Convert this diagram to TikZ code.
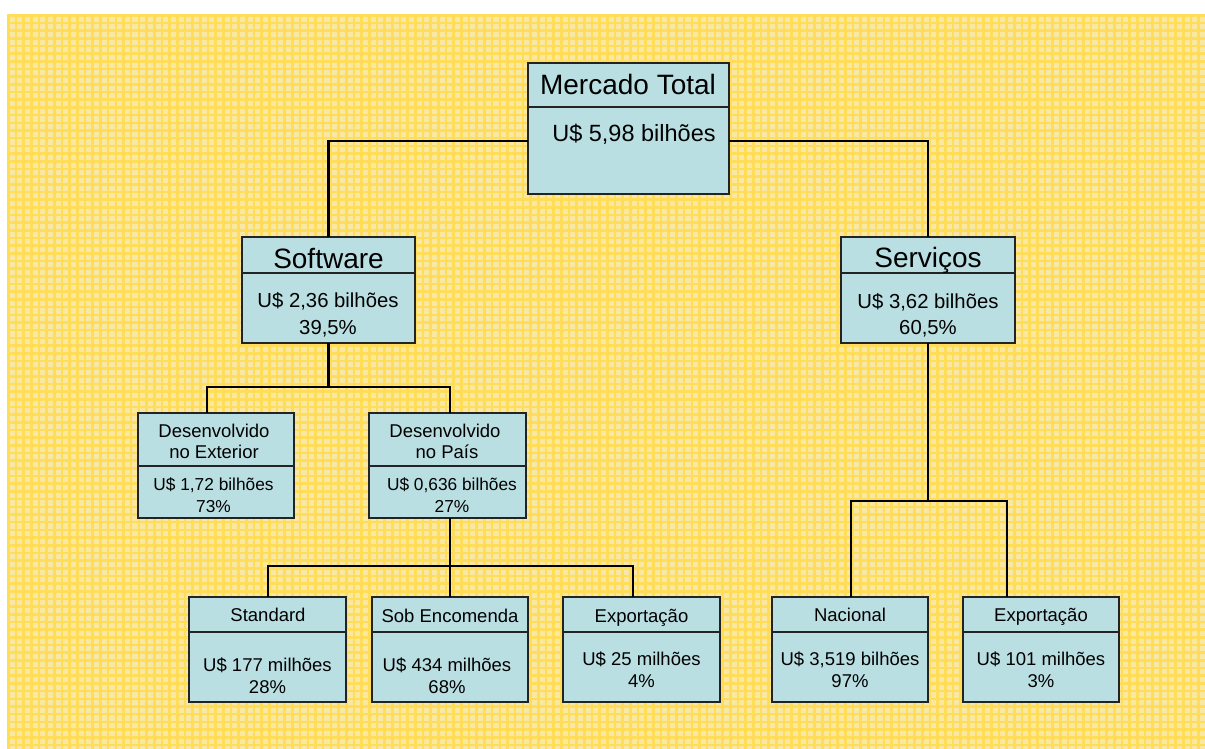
\documentclass[tikz,border=0pt]{standalone}
\usepackage{fontspec}
\setmainfont{Liberation Sans}
\definecolor{bgl}{RGB}{248,232,164}
\definecolor{bgd}{RGB}{255,221,88}
\definecolor{boxf}{RGB}{186,223,227}
\definecolor{boxd}{RGB}{35,35,35}
\begin{document}
\begin{tikzpicture}[x=1pt,y=-1pt,
  box/.style={draw=boxd,fill=boxf,line width=2pt,rectangle,inner sep=0pt,outer sep=0pt},
  divline/.style={draw=boxd,line width=1.6pt},
  conn/.style={draw=black,line width=2.4pt},
  tl/.style={anchor=base,inner sep=0pt,text=black},
  fA/.style={tl,font=\fontsize{28}{32}\selectfont},
  fB/.style={tl,font=\fontsize{23.5}{27}\selectfont},
  fC/.style={tl,font=\fontsize{20.3}{24}\selectfont},
  fD/.style={tl,font=\fontsize{18.5}{22}\selectfont},
  fE/.style={tl,font=\fontsize{17.3}{21}\selectfont}]
\useasboundingbox (0,0) rectangle (1205,749);
% background grid
\begin{scope}
\clip (7,14) rectangle (1205,749);
\fill[bgl] (7,14) rectangle (1205,749);
\foreach \i in {0,...,157} \draw[bgd,line width=2.6pt] ({8.3+7.68*\i},14) -- ({8.3+7.68*\i},749);
\foreach \j in {0,...,96} \draw[bgd,line width=2.6pt] (7,{15.3+7.68*\j}) -- (1205,{15.3+7.68*\j});
\end{scope}

% boxes
\node[box,minimum width=201pt,minimum height=131pt] (mt) at (628.5,128.5) {};
\node[box,minimum width=173pt,minimum height=106pt] (sw) at (328.5,290) {};
\node[box,minimum width=174pt,minimum height=106pt] (sv) at (928,290) {};
\node[box,minimum width=156pt,minimum height=105pt] (de) at (216,465.5) {};
\node[box,minimum width=157pt,minimum height=105pt] (dp) at (447.5,465.5) {};
\node[box,minimum width=157pt,minimum height=105pt] (st) at (267.5,649.5) {};
\node[box,minimum width=156pt,minimum height=105pt] (se) at (450,649.5) {};
\node[box,minimum width=157pt,minimum height=105pt] (ex) at (641.5,649.5) {};
\node[box,minimum width=156pt,minimum height=105pt] (na) at (850,649.5) {};
\node[box,minimum width=156pt,minimum height=105pt] (ex2) at (1041,649.5) {};

% dividers
\draw[divline] (mt.west |- 0,107) -- (mt.east |- 0,107);
\draw[divline] (sw.west |- 0,273) -- (sw.east |- 0,273);
\draw[divline] (sv.west |- 0,273) -- (sv.east |- 0,273);
\draw[divline] (de.west |- 0,466) -- (de.east |- 0,466);
\draw[divline] (dp.west |- 0,466) -- (dp.east |- 0,466);
\foreach \b in {st,se,ex,na,ex2} \draw[divline] (\b.west |- 0,632) -- (\b.east |- 0,632);

% connector points
\coordinate (mtL) at ([yshift=-12.5pt]mt.west);
\coordinate (mtR) at ([yshift=-12.5pt]mt.east);
\coordinate (bA) at (329,387);
\coordinate (bB) at (450,566);
\coordinate (bC) at (928,501);
\coordinate (deIn) at ([xshift=-9pt]de.north);
\coordinate (dpIn) at ([xshift=2.5pt]dp.north);
\coordinate (dpOut) at ([xshift=2.5pt]dp.south);
\coordinate (stIn) at ([xshift=0.5pt]st.north);
\coordinate (exIn) at ([xshift=-8.5pt]ex.north);
\coordinate (naIn) at ([xshift=1pt]na.north);
\coordinate (ex2In) at ([xshift=-34pt]ex2.north);

% connectors
\draw[conn] (mtL) -| (sw.north);
\draw[conn] (mtR) -| (sv.north);
\draw[conn] (sw.south) -- (sw.south |- bA);
\draw[conn] (deIn) |- (dpIn |- bA) -- (dpIn);
\draw[conn] (dpOut) -- (dpOut |- bB);
\draw[conn] (stIn) |- (exIn |- bB) -- (exIn);
\draw[conn] (se.north) -- (se.north |- bB);
\draw[conn] (sv.south) -- (sv.south |- bC);
\draw[conn] (naIn) |- (ex2In |- bC) -- (ex2In);

% texts
\node[fA] (mtT) at (628,95) {Mercado Total};
\node[fB] (mtV) at (634,141.5) {U\$ 5,98 bilhões};

\node[fA] (swT) at (328.5,268) {Software};
\node[fC] (swV) at (328,307) {U\$ 2,36 bilhões};
\node[fC] (swP) at (328,334) {39,5\%};

\node[fA] (svT) at (928,267) {Serviços};
\node[fC] (svV) at (928,308) {U\$ 3,62 bilhões};
\node[fC] (svP) at (928,334) {60,5\%};

\node[fD] (deT1) at (214,437.5) {Desenvolvido};
\node[fD] (deT2) at (214,458.5) {no Exterior};
\node[fE] (deV) at (213.5,490) {U\$ 1,72 bilhões};
\node[fE] (deP) at (213.5,512) {73\%};

\node[fD] (dpT1) at (445,437.5) {Desenvolvido};
\node[fD] (dpT2) at (447,458.5) {no País};
\node[fE] (dpV) at (452,490) {U\$ 0,636 bilhões};
\node[fE] (dpP) at (452,512) {27\%};

\node[fD] (stT) at (268,621.6) {Standard};
\node[fD] (stV) at (267.5,671.6) {U\$ 177 milhões};
\node[fD] (stP) at (267.5,693.6) {28\%};

\node[fD] (seT) at (450,622.6) {Sob Encomenda};
\node[fD] (seV) at (447,671.6) {U\$ 434 milhões};
\node[fD] (seP) at (447,693.6) {68\%};

\node[fD] (exT) at (641.5,622.6) {Exportação};
\node[fD] (exV) at (641.5,665.6) {U\$ 25 milhões};
\node[fD] (exP) at (641.5,687.6) {4\%};

\node[fD] (naT) at (850,621.6) {Nacional};
\node[fD] (naV) at (850,665.6) {U\$ 3,519 bilhões};
\node[fD] (naP) at (850,687.6) {97\%};

\node[fD] (ex2T) at (1041,621.6) {Exportação};
\node[fD] (ex2V) at (1041,665.6) {U\$ 101 milhões};
\node[fD] (ex2P) at (1041,687.6) {3\%};
\end{tikzpicture}
\end{document}
